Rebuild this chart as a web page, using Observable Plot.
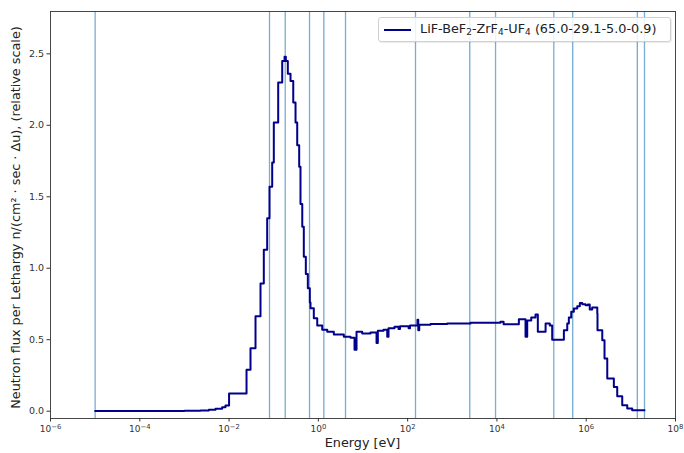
<!DOCTYPE html>
<html>
<head>
<meta charset="utf-8">
<script src="https://cdn.jsdelivr.net/npm/d3@7"></script>
<script src="https://cdn.jsdelivr.net/npm/@observablehq/plot@0.6"></script>
<style>
  html, body { margin: 0; padding: 0; background: #fff; }
  #wrap { position: relative; width: 684px; height: 453px; font-family: "DejaVu Sans", sans-serif; }
  #legend {
    position: absolute; left: 378px; top: 17px; width: 293px; height: 25px;
    box-sizing: border-box; border: 1px solid #d0d0d0; border-radius: 3px;
    background: rgba(255,255,255,0.85); box-shadow: 1px 1px 1px rgba(0,0,0,0.08);
    font-size: 12.8px; color: #222; white-space: nowrap;
  }
  #legend .sw { position: absolute; left: 5px; top: 11px; width: 27px; height: 0; border-top: 2px solid #00008b; }
  #legend .tx { position: absolute; left: 41px; top: 3px; line-height: 16px; }
  #legend sub { font-size: 9px; vertical-align: -2px; line-height: 0; }
</style>
</head>
<body>
<div id="wrap"><div id="chart"></div>
  <div id="legend"><div class="sw"></div><div class="tx">LiF-BeF<sub>2</sub>-ZrF<sub>4</sub>-UF<sub>4</sub> (65.0-29.1-5.0-0.9)</div></div>
</div>
<script>
// Group edges (eV) and flux per lethargy per group (relative)
const edges = [
  1.0e-5, 1.0e-4, 1.0e-3, 2.29e-3, 3.52e-3, 4.97e-3, 7.0e-3, 8.3e-3, 1.0e-2,
  0.0246, 0.0302, 0.0391, 0.0506, 0.0600, 0.0714, 0.0805, 0.0925, 0.1005, 0.126,
  0.155, 0.175, 0.187, 0.207, 0.238, 0.274, 0.308, 0.336, 0.372, 0.398,
  0.436, 0.472, 0.524, 0.581, 0.644, 0.667, 0.791, 0.944, 1.22, 1.58,
  2.22, 3.72, 5.25, 6.46, 7.16, 9.6, 14.7, 20.1, 21.5, 28.8,
  34.9, 37.3, 50.8, 62.5, 67.5, 105, 113, 166, 173, 182,
  326, 771, 2560, 1.2e4, 1.41e4, 3.10e4, 4.37e4, 4.77e4, 5.87e4, 7.32e4,
  8.24e4, 1.23e5, 1.53e5, 1.73e5, 3.16e5, 3.76e5, 4.08e5, 4.62e5, 5.28e5, 6.3e5,
  7.2e5, 8.15e5, 9.66e5, 1.09e6, 1.2e6, 1.36e6, 1.77e6, 1.79e6, 2.29e6, 2.57e6,
  2.96e6, 4.16e6, 4.95e6, 6.41e6, 8.3e6, 1.07e7, 2.02e7
];
const flux = [
  0.001, 0.002, 0.003, 0.005, 0.01, 0.017, 0.028, 0.04, 0.124,
  0.29, 0.44, 0.664, 0.893, 1.13, 1.35, 1.57, 1.74, 2.02, 2.30,
  2.45, 2.48, 2.45, 2.36, 2.31, 2.16, 2.02, 1.86, 1.71, 1.45,
  1.29, 1.08, 0.96, 0.86, 0.76, 0.72, 0.65, 0.60, 0.57, 0.555,
  0.537, 0.52, 0.513, 0.43, 0.555, 0.543, 0.55, 0.478, 0.562, 0.57,
  0.52, 0.58, 0.59, 0.575, 0.595, 0.58, 0.60, 0.64, 0.567, 0.605,
  0.61, 0.613, 0.618, 0.625, 0.608, 0.643, 0.52, 0.635, 0.655, 0.676,
  0.555, 0.613, 0.60, 0.50, 0.567, 0.613, 0.655, 0.695, 0.718, 0.735,
  0.757, 0.748, 0.742, 0.746, 0.711, 0.725, 0.683, 0.567, 0.497, 0.369,
  0.229, 0.17, 0.105, 0.042, 0.019, 0.007
];
// vertical reference lines (eV)
const linesLight = [1.0e-5, 0.0805, 0.181, 0.634, 4.06, 150, 9310, 1.88e5, 2.02e7];
const linesDark = [1.33, 2470, 5.0e5, 1.39e7];
const xTicks = [1e-6, 1e-4, 1e-2, 1e0, 1e2, 1e4, 1e6, 1e8];
const xTickExponents = ["\u22126", "\u22124", "\u22122", "0", "2", "4", "6", "8"];
const yTicks = [0, 0.5, 1.0, 1.5, 2.0, 2.5];

const series = edges.map((e, i) => ({e, v: flux[Math.min(i, flux.length - 1)]}));

const W = 684, H = 453, ML = 50, MR = 9, MT = 11, MB = 35;
const chart = Plot.plot({
  width: W, height: H,
  marginLeft: ML, marginRight: MR, marginTop: MT, marginBottom: MB,
  style: {fontFamily: "DejaVu Sans, sans-serif", fontSize: "9.5px", color: "#333", background: "white"},
  x: {type: "log", domain: [1e-6, 1e8]},
  y: {domain: [-0.051, 2.796]},
  marks: [
    Plot.ruleX(linesLight, {stroke: "#1f77b4", strokeOpacity: 0.6, strokeWidth: 1.3}),
    Plot.ruleX(linesDark, {stroke: "#1f77b4", strokeOpacity: 0.9, strokeWidth: 0.9}),
    Plot.line(series, {x: "e", y: "v", curve: "step-after", stroke: "#00008b", strokeWidth: 2}),
    Plot.frame({stroke: "#333", strokeWidth: 0.9}),
    Plot.axisX({ticks: xTicks, tickFormat: (d, i) => "10", tickSize: 3.5, tickPadding: 4, label: null, fontSize: 9}),
    Plot.axisY({ticks: yTicks, tickFormat: d3.format(".1f"), tickSize: 3.5, tickPadding: 3, label: null, fontSize: 9.5})
  ]
});
document.getElementById("chart").appendChild(chart);

const svg = d3.select(chart);
// superscript exponents on x tick labels
svg.selectAll('g[aria-label="x-axis tick label"] text').each(function(d, i) {
  const t = d3.select(this);
  t.text(null);
  t.append("tspan").text("10");
  t.append("tspan").attr("dy", "-0.45em").attr("font-size", "6.8px").text(xTickExponents[i]);
});
svg.append("text")
  .attr("x", ML + (W - ML - MR) / 2).attr("y", 447)
  .attr("text-anchor", "middle")
  .attr("font-family", "DejaVu Sans, sans-serif").attr("font-size", 12.8).attr("fill", "#222")
  .text("Energy [eV]");
svg.append("text")
  .attr("transform", `translate(20,${MT + (H - MT - MB) / 2 + 3}) rotate(-90)`)
  .attr("text-anchor", "middle")
  .attr("font-family", "DejaVu Sans, sans-serif").attr("font-size", 12.8).attr("fill", "#222")
  .text("Neutron flux per Lethargy n/(cm\u00B2 \u00B7 sec \u00B7 \u0394u), (relative scale)");
</script>
</body>
</html>
